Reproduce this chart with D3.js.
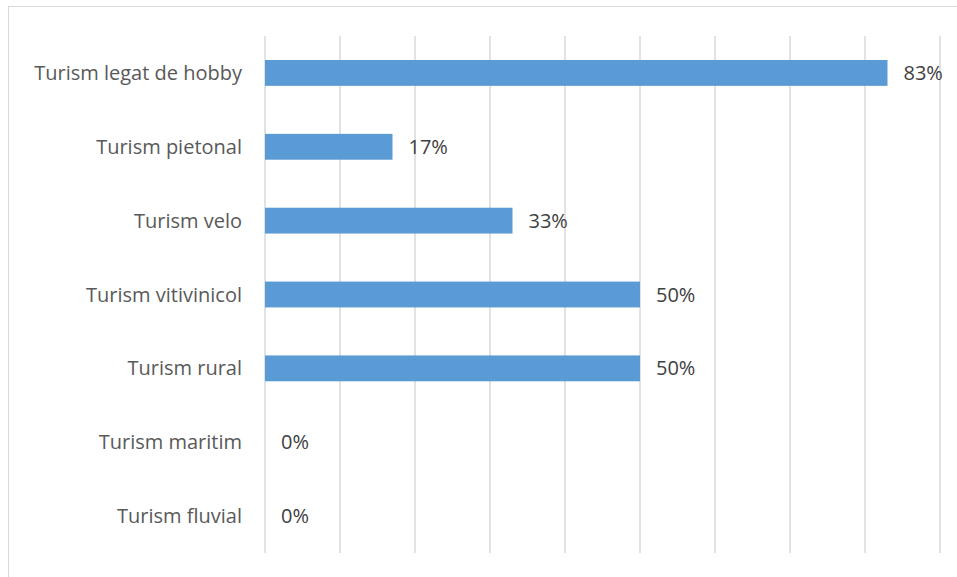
<!DOCTYPE html>
<html>
<head>
<meta charset="utf-8">
<script src="https://cdn.jsdelivr.net/npm/d3@7/dist/d3.min.js"></script>
<style>
  body { margin: 0; background: #fff; }
  text { font-family: "Open Sans", "Noto Sans", sans-serif; }
</style>
</head>
<body>
<div id="chart"></div>
<script>
// categories top to bottom
const categories = ["Turism legat de hobby", "Turism pietonal", "Turism velo", "Turism vitivinicol", "Turism rural", "Turism maritim", "Turism fluvial"];
const shares = [0.83, 0.17, 0.33, 0.50, 0.50, 0, 0];
const gridTicks = [0, 0.1, 0.2, 0.3, 0.4, 0.5, 0.6, 0.7, 0.8, 0.9];

const width = 957, height = 577;
const margin = { top: 36, right: 19, bottom: 24, left: 265 };

const svg = d3.select("#chart")
    .append("svg")
    .attr("width", width)
    .attr("height", height);

// chart frame
svg.append("rect")
    .attr("x", 8.5)
    .attr("y", 6.5)
    .attr("width", width + 10)
    .attr("height", height + 10)
    .attr("fill", "none")
    .attr("stroke", "#d9d9d9");

const x = d3.scaleLinear()
    .domain([0, 0.9])
    .range([margin.left, width - margin.right + 2]);

const y = d3.scaleBand()
    .domain(categories)
    .range([margin.top, height - margin.bottom])
    .paddingInner(0.65)
    .paddingOuter(0.325);

// vertical gridlines
svg.append("g")
    .selectAll("line")
    .data(gridTicks)
    .enter()
    .append("line")
    .attr("x1", d => x(d))
    .attr("x2", d => x(d))
    .attr("y1", margin.top)
    .attr("y2", height - margin.bottom)
    .attr("stroke", "#d9d9d9")
    .attr("stroke-width", 1.5);

// bars
svg.selectAll(".bar")
    .data(categories)
    .enter()
    .append("rect")
    .attr("class", "bar")
    .attr("x", x(0))
    .attr("y", d => y(d))
    .attr("width", (d, i) => x(shares[i]) - x(0))
    .attr("height", y.bandwidth())
    .attr("fill", "#5b9bd5");

// value labels
svg.selectAll(".value")
    .data(categories)
    .enter()
    .append("text")
    .attr("class", "value")
    .attr("x", (d, i) => x(shares[i]) + 16)
    .attr("y", d => y(d) + y.bandwidth() / 2)
    .attr("dy", "0.35em")
    .attr("fill", "#404040")
    .style("font-size", "20px")
    .text((d, i) => d3.format(".0%")(shares[i]));

// category labels
svg.selectAll(".cat")
    .data(categories)
    .enter()
    .append("text")
    .attr("class", "cat")
    .attr("x", margin.left - 23)
    .attr("y", d => y(d) + y.bandwidth() / 2)
    .attr("dy", "0.35em")
    .attr("text-anchor", "end")
    .attr("fill", "#595959")
    .style("font-size", "20px")
    .text(d => d);
</script>
</body>
</html>
